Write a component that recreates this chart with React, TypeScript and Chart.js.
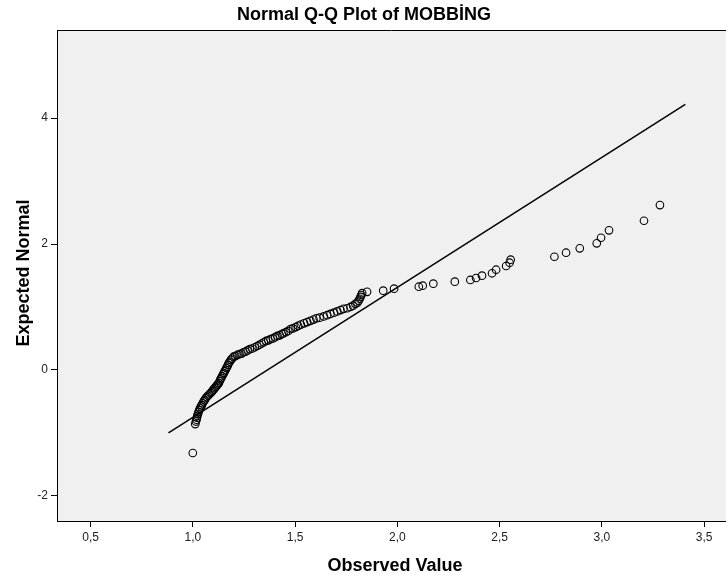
import React, { useEffect, useRef } from "react";
import { Chart, registerables } from "chart.js";

Chart.register(...registerables);

const observedX = [
  1.0,
  1.012, 1.015, 1.018, 1.02, 1.022, 1.025, 1.028, 1.031, 1.035, 1.04,
  1.044, 1.048, 1.053, 1.058, 1.063, 1.068, 1.074, 1.08, 1.086, 1.092,
  1.097, 1.102, 1.107, 1.112, 1.117, 1.122, 1.127, 1.131, 1.135, 1.139,
  1.143, 1.148, 1.152, 1.156, 1.16, 1.164, 1.168, 1.172, 1.176, 1.181,
  1.186, 1.192, 1.199, 1.208, 1.218, 1.228, 1.238, 1.248, 1.258, 1.268,
  1.279, 1.291, 1.303, 1.315, 1.326, 1.337, 1.347, 1.358, 1.369, 1.38,
  1.392, 1.403, 1.414, 1.425, 1.435, 1.443, 1.455, 1.467, 1.478, 1.49,
  1.503, 1.515, 1.528, 1.544, 1.559, 1.575, 1.59, 1.604, 1.62, 1.64,
  1.657, 1.673, 1.69, 1.706, 1.722, 1.737, 1.755, 1.771, 1.784, 1.795,
  1.805, 1.811, 1.816, 1.82, 1.824, 1.828, 1.852,
  1.931, 1.984, 2.105, 2.124, 2.176, 2.281, 2.357, 2.385, 2.414, 2.463,
  2.483, 2.532, 2.549, 2.554, 2.768, 2.825, 2.892, 2.975, 2.996, 3.035,
  3.206, 3.284,
];
const expectedY = [
  -1.32,
  -0.86, -0.82, -0.79, -0.76, -0.73, -0.7, -0.67, -0.64, -0.61, -0.58,
  -0.56, -0.53, -0.5, -0.48, -0.45, -0.43, -0.41, -0.39, -0.37, -0.35,
  -0.33, -0.31, -0.29, -0.27, -0.25, -0.23, -0.21, -0.18, -0.15, -0.13,
  -0.1, -0.07, -0.05, -0.02, 0.0, 0.03, 0.05, 0.08, 0.11, 0.13,
  0.16, 0.18, 0.21, 0.22, 0.24, 0.25, 0.26, 0.28, 0.29, 0.31,
  0.33, 0.34, 0.36, 0.38, 0.4, 0.42, 0.44, 0.46, 0.47, 0.49,
  0.5, 0.52, 0.54, 0.55, 0.57, 0.58, 0.6, 0.62, 0.65, 0.66,
  0.68, 0.7, 0.72, 0.74, 0.76, 0.78, 0.8, 0.82, 0.83, 0.85,
  0.87, 0.89, 0.91, 0.93, 0.95, 0.97, 0.98, 1.0, 1.02, 1.05,
  1.07, 1.1, 1.13, 1.16, 1.19, 1.22, 1.24,
  1.259, 1.291, 1.322, 1.338, 1.37, 1.402, 1.429, 1.46, 1.497, 1.535,
  1.592, 1.651, 1.703, 1.751, 1.798, 1.862, 1.932, 2.011, 2.1, 2.217,
  2.37, 2.619,
];

// Reference line endpoints
const refLineX = [0.881, 3.408];
const refLineY = [-1.0, 4.22];

// Axis ticks
const xTickValues = [0.5, 1.0, 1.5, 2.0, 2.5, 3.0, 3.5];
const yTickValues = [-2, 0, 2, 4];

const titleText = "Normal Q-Q Plot of MOBBİNG";
const xTitleText = "Observed Value";
const yTitleText = "Expected Normal";

const FONT = "'Liberation Sans', Arial, Helvetica, sans-serif";

export default function App() {
  const ref = useRef<HTMLCanvasElement | null>(null);

  useEffect(() => {
    if (!ref.current) return;

    const decor = {
      id: "decor",
      beforeDraw(chart: any) {
        const { ctx, chartArea } = chart;
        ctx.save();
        ctx.fillStyle = "#F0F0F0";
        ctx.fillRect(
          chartArea.left,
          chartArea.top,
          chartArea.right - chartArea.left,
          chartArea.bottom - chartArea.top
        );
        ctx.restore();
      },
      afterDraw(chart: any) {
        const { ctx, chartArea } = chart;
        ctx.save();
        // top border
        ctx.strokeStyle = "#000";
        ctx.lineWidth = 1;
        ctx.beginPath();
        ctx.moveTo(chartArea.left, chartArea.top + 0.5);
        ctx.lineTo(chartArea.right, chartArea.top + 0.5);
        ctx.stroke();

        ctx.fillStyle = "#000";
        ctx.textAlign = "center";
        ctx.textBaseline = "middle";
        ctx.font = `bold 18px ${FONT}`;
        ctx.fillText(titleText, 364, 15);
        ctx.fillText(xTitleText, 395, 566);

        ctx.translate(24, 273);
        ctx.rotate(-Math.PI / 2);
        ctx.fillText(yTitleText, 0, 0);
        ctx.restore();
      },
    };

    const chart = new Chart(ref.current, {
      type: "scatter",
      data: {
        datasets: [
          {
            label: "line",
            data: refLineX.map((x, i) => ({ x, y: refLineY[i] })),
            showLine: true,
            borderColor: "#000",
            borderWidth: 1.5,
            pointRadius: 0,
            fill: false,
          },
          {
            label: "points",
            data: observedX.map((x, i) => ({ x, y: expectedY[i] })),
            showLine: false,
            pointRadius: 3.8,
            pointBorderWidth: 1.1,
            pointBorderColor: "#000",
            pointBackgroundColor: "rgba(0,0,0,0)",
          },
        ],
      },
      options: {
        animation: false,
        responsive: false,
        events: [],
        layout: { autoPadding: false, padding: { top: 30, left: 0, right: 0, bottom: 0 } },
        plugins: {
          legend: { display: false },
          tooltip: { enabled: false },
          title: { display: false },
        },
        scales: {
          x: {
            type: "linear",
            min: 0.336,
            max: 3.607,
            afterBuildTicks: (s: any) => {
              s.ticks = xTickValues.map((v) => ({ value: v }));
            },
            afterFit: (s: any) => {
              s.height = 60;
              s.paddingLeft = 0;
              s.paddingRight = 0;
            },
            ticks: {
              autoSkip: false,
              maxRotation: 0,
              padding: 3,
              color: "#222",
              font: { size: 12, family: FONT },
              callback: (v: any) => Number(v).toFixed(1).replace(".", ","),
            },
            grid: {
              display: true,
              drawOnChartArea: false,
              drawTicks: true,
              tickLength: 6,
              color: "#000",
              lineWidth: 1,
            },
            border: { display: true, color: "#000", width: 1 },
          },
          y: {
            type: "linear",
            min: -2.4,
            max: 5.4,
            afterBuildTicks: (s: any) => {
              s.ticks = yTickValues.map((v) => ({ value: v }));
            },
            afterFit: (s: any) => {
              s.width = 57;
              s.paddingTop = 0;
              s.paddingBottom = 0;
            },
            ticks: {
              autoSkip: false,
              padding: 3,
              color: "#222",
              font: { size: 12, family: FONT },
              callback: (v: any) => String(v),
            },
            grid: {
              display: true,
              drawOnChartArea: false,
              drawTicks: true,
              tickLength: 6,
              color: "#000",
              lineWidth: 1,
            },
            border: { display: true, color: "#000", width: 1 },
          },
        },
      },
      plugins: [decor],
    } as any);

    return () => chart.destroy();
  }, []);

  return (
    <div style={{ position: "fixed", left: 0, top: 0, width: 726, height: 581, background: "#fff" }}>
      <canvas ref={ref} width={726} height={581} style={{ display: "block", width: 726, height: 581 }} />
    </div>
  );
}
